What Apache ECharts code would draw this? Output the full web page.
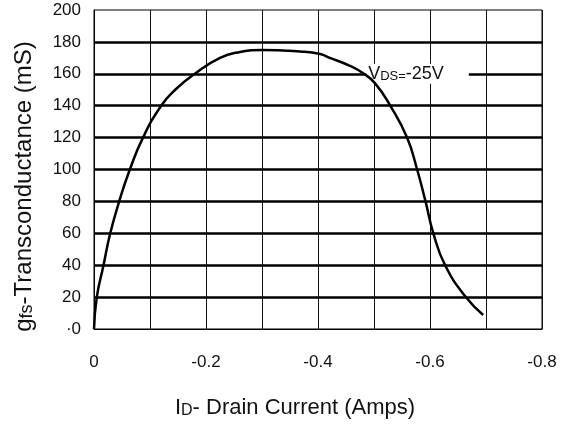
<!DOCTYPE html>
<html>
<head>
<meta charset="utf-8">
<script src="https://cdn.jsdelivr.net/npm/echarts@6/dist/echarts.min.js"></script>
<style>
  html, body { margin: 0; padding: 0; background: #fff; }
  #chart { width: 567px; height: 425px; }
</style>
</head>
<body>
<div id="chart"></div>
<script>
// curve: drain current (A) vs gfs (mS)
const drainCurrent = [0, -0.005, -0.017, -0.029, -0.045, -0.064, -0.0875, -0.12, -0.145, -0.18, -0.225, -0.261, -0.3, -0.368, -0.404, -0.421, -0.457, -0.48, -0.502, -0.529, -0.559, -0.577, -0.592, -0.606, -0.627, -0.664, -0.695];
const gfs = [0, 20, 40, 60, 80, 100, 120, 140, 150, 160, 170, 173.7, 175, 174, 172.4, 170, 165, 160.5, 154, 140, 120, 100, 80, 60, 40, 20, 8.8];

const xTickValues = [0, -0.2, -0.4, -0.6, -0.8];
const xTickLabels = ["0", "-0.2", "-0.4", "-0.6", "-0.8"];
const yTickValues = [0, 20, 40, 60, 80, 100, 120, 140, 160, 180, 200];
const yTickLabels = ["·0", "20", "40", "60", "80", "100", "120", "140", "160", "180", "200"];

// where the VDS note sits (data coords)
const noteAt = [-0.486, 160];

const myChart = echarts.init(document.getElementById("chart"));
const font = "Liberation Sans, Arial, sans-serif";

function pickLabel(values, labels, v) {
  for (let i = 0; i < values.length; i++) {
    if (Math.abs(values[i] - v) < 1e-6) return labels[i];
  }
  return "";
}

let option = {
  animation: false,
  backgroundColor: "#fff",
  grid: {
    show: true,
    left: 94,
    right: 25,
    top: 10,
    bottom: 96,
    borderColor: "#000",
    borderWidth: 1,
    backgroundColor: "transparent",
  },
  xAxis: {
    type: "value",
    inverse: true,
    min: -0.8,
    max: 0,
    interval: 0.1,
    name: "{big|I}{sub|D}{big|- Drain Current (Amps)}",
    nameLocation: "middle",
    nameGap: 68,
    nameTextStyle: {
      padding: [0, 46, 0, 0],
      rich: {
        big: { fontFamily: font, fontSize: 22, color: "#111" },
        sub: { fontFamily: font, fontSize: 16, color: "#111", verticalAlign: "bottom" },
      },
    },
    axisLine: { show: true, lineStyle: { color: "#000", width: 1 } },
    axisTick: { show: false },
    axisLabel: {
      margin: 25,
      fontFamily: font,
      fontSize: 17,
      color: "#111",
      formatter: (v) => pickLabel(xTickValues, xTickLabels, v),
    },
    splitLine: {
      show: true,
      lineStyle: { color: "#111", width: 1 },
    },
  },
  yAxis: {
    type: "value",
    min: 0,
    max: 200,
    interval: 20,
    name: "{big|g}{sub|fs}{big|-Transconductance (mS)}",
    nameLocation: "middle",
    nameRotate: 90,
    nameGap: 58,
    nameTextStyle: {
      padding: [0, 34, 0, 0],
      rich: {
        big: { fontFamily: font, fontSize: 24, color: "#111" },
        sub: { fontFamily: font, fontSize: 18, color: "#111", verticalAlign: "bottom" },
      },
    },
    axisLine: { show: true, lineStyle: { color: "#000", width: 1 } },
    axisTick: { show: false },
    axisLabel: {
      margin: 13,
      fontFamily: font,
      fontSize: 17,
      color: "#111",
      formatter: (v) => pickLabel(yTickValues, yTickLabels, v),
    },
    splitLine: {
      show: true,
      showMinLine: false,
      showMaxLine: false,
      lineStyle: { color: "#000", width: 2.5 },
    },
  },
  series: [
    {
      type: "line",
      data: drainCurrent.map((x, i) => [x, gfs[i]]),
      smooth: 0.5,
      symbol: "none",
      lineStyle: { color: "#000", width: 2.5 },
      z: 3,
    },
    {
      // the VDS note, with white box over the 160 grid line
      type: "scatter",
      data: [noteAt],
      symbolSize: 0,
      silent: true,
      z: 2,
      itemStyle: { opacity: 1 },
      label: {
        show: true,
        position: "right",
        distance: 0,
        backgroundColor: "#fff",
        padding: [1, 25, 1, 2],
        formatter: "{v|V}{s|DS=}{v|-25V}",
        rich: {
          v: { fontFamily: font, fontSize: 18, color: "#111", verticalAlign: "bottom" },
          s: { fontFamily: font, fontSize: 13, color: "#111", verticalAlign: "bottom" },
        },
      },
    },
  ],
};

option && myChart.setOption(option);
</script>
</body>
</html>
